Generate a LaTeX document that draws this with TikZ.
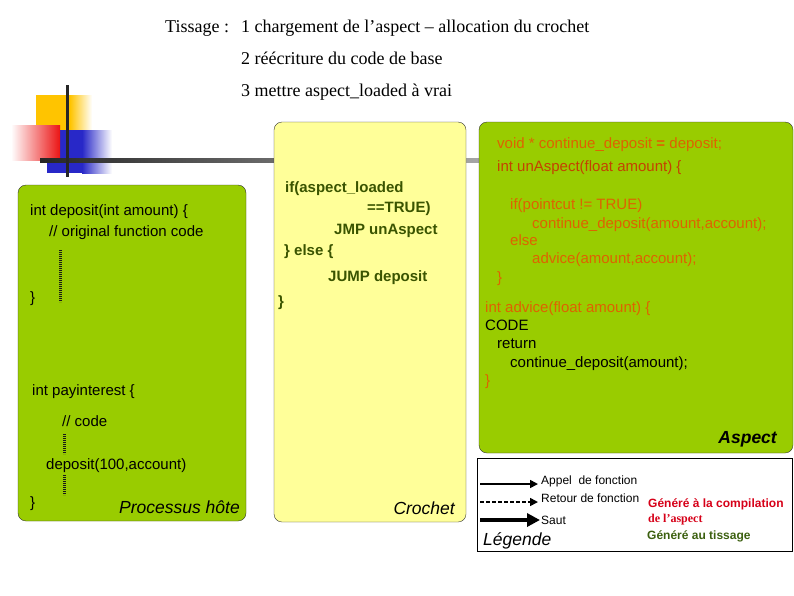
\documentclass[tikz,border=0pt]{standalone}
\usepackage{fontspec}
\setmainfont{Liberation Serif}
\setsansfont{Liberation Sans}
\usetikzlibrary{arrows.meta}
\definecolor{hostGreen}{RGB}{153,204,0}
\definecolor{hookYellow}{RGB}{255,255,153}
\definecolor{hookText}{RGB}{58,84,0}
\definecolor{aspectOrange}{RGB}{222,98,0}
\definecolor{aspectBrown}{RGB}{196,66,0}
\definecolor{genRed}{RGB}{214,0,24}
\definecolor{genGreen}{RGB}{60,96,16}
\newcommand{\codeSize}[0]{\fontsize{15}{18}\selectfont}
\newcommand{\titleSize}[0]{\fontsize{18}{21}\selectfont}
\newcommand{\labelSize}[0]{\fontsize{17.5}{20}\selectfont}
\newcommand{\legendSize}[0]{\fontsize{12}{14}\selectfont}

\begin{document}
\begin{tikzpicture}[x=1pt, y=-1pt]
  \tikzset{every node/.style={inner sep=0pt, anchor=base west},
    codebox/.style={draw=black!80, rounded corners=8pt, anchor=center},
    code/.style={font=\sffamily\codeSize},
    hook/.style={font=\sffamily\bfseries\codeSize, text=hookText},
    advice/.style={font=\sffamily\codeSize, text=aspectOrange},
    boxlabel/.style={font=\sffamily\itshape\labelSize, anchor=base east},
    legendtext/.style={font=\sffamily\legendSize},
    ellipsis/.style={line width=3pt, black!90, dash pattern=on 1.2pt off 0.8pt}}
  \useasboundingbox (0,0) rectangle (794,595);

  % logo
  \fill[color={rgb,255:red,255;green,196;blue,0}] (36,95) rectangle (70,132);
  \shade[left color={rgb,255:red,255;green,196;blue,0}, right color=white] (70,95) rectangle (92,132);
  \fill[color={rgb,255:red,40;green,40;blue,200}] (47,130) rectangle (82,173);
  \shade[left color={rgb,255:red,40;green,40;blue,200}, right color=white] (82,130) rectangle (112,173);
  \shade[left color=white, right color={rgb,255:red,235;green,20;blue,20}] (11,125) rectangle (60,160);
  \shade[left color=black!85, right color=black!35] (40,158) rectangle (480,162.5);
  \draw[line width=3pt, black!85] (67,85) -- (67,177);

  % titre
  \node[font=\titleSize] (tissage) at (165,32) {Tissage :};
  \node[font=\titleSize] (step1) at (241,32) {1 chargement de l’aspect – allocation du crochet};
  \node[font=\titleSize] (step2) at (241,64) {2 réécriture du code de base};
  \node[font=\titleSize] (step3) at (241,96) {3 mettre aspect\_loaded à vrai};

  % boites
  \node[codebox, fill=hostGreen, minimum width=228pt, minimum height=336pt] (host) at (132,353) {};
  \node[codebox, fill=hookYellow, minimum width=192pt, minimum height=400pt] (hook) at (370,322) {};
  \node[codebox, fill=hostGreen, minimum width=314pt, minimum height=331pt] (aspect) at (636,287.5) {};
  \node[draw=black, anchor=center, minimum width=315pt, minimum height=93pt] (legend) at (634.5,504.5) {};

  % processus hote
  \node[code] (deposit) at (30,215) {int deposit(int amount) \{};
  \node[code] (original) at (49,236) {// original function code};
  \node[code] (depositEnd) at (30,302) {\}};
  \node[code] (payinterest) at (32,395) {int payinterest \{};
  \node[code] (comment) at (62,426) {// code};
  \node[code] (call) at (46,469) {deposit(100,account)};
  \node[code] (payEnd) at (30,507) {\}};
  \node[boxlabel] (hostLabel) at (240,513) {Processus hôte};
  \coordinate (dotsA) at (60,250);
  \coordinate (dotsB) at (60,302);
  \coordinate (dotsC) at (64,434);
  \coordinate (dotsD) at (64,454);
  \coordinate (dotsE) at (64,475);
  \coordinate (dotsF) at (64,495);
  \draw[ellipsis] (dotsA) -- (dotsB);
  \draw[ellipsis] (dotsC) -- (dotsD);
  \draw[ellipsis] (dotsE) -- (dotsF);

  % crochet
  \node[hook] (test) at (285,192) {if(aspect\_loaded};
  \node[hook] (true) at (367,212) {==TRUE)};
  \node[hook] (jmp) at (334,234) {JMP unAspect};
  \node[hook] (else) at (284,255) {\} else \{};
  \node[hook] (jump) at (328,281) {JUMP deposit};
  \node[hook] (hookEnd) at (278,306) {\}};
  \node[boxlabel] (hookLabel) at (455,514) {Crochet};

  % aspect
  \node[advice] (pointer) at (497,148) {void * continue\_deposit {\bfseries =} deposit;};
  \node[advice, text=aspectBrown] (unAspect) at (497,171) {int unAspect(float amount) \{};
  \node[advice] (pointcut) at (510,209) {if(pointcut != TRUE)};
  \node[advice] (continue) at (532,228) {continue\_deposit(amount,account);};
  \node[advice] (otherwise) at (510,245) {else};
  \node[advice] (callAdvice) at (532,263) {advice(amount,account);};
  \node[advice] (unAspectEnd) at (497,282) {\}};
  \node[advice] (adviceDef) at (485,312) {int advice(float amount) \{};
  \node[code] (body) at (485,330) {CODE};
  \node[code] (return) at (497,348) {return};
  \node[code] (returnCall) at (510,367) {continue\_deposit(amount);};
  \node[advice] (adviceEnd) at (485,385) {\}};
  \node[boxlabel, font=\sffamily\bfseries\itshape\labelSize] (aspectLabel) at (777,443) {Aspect};

  % legende
  \coordinate (callFrom) at (480,484);
  \coordinate (callTo) at (538,484);
  \coordinate (returnFrom) at (480,502);
  \coordinate (returnTo) at (538,502);
  \coordinate (jumpFrom) at (480,520);
  \coordinate (jumpTo) at (540,520);
  \draw[line width=1.6pt, -{Triangle[length=8pt, width=8pt]}] (callFrom) -- (callTo);
  \draw[line width=1.6pt, dash pattern=on 4pt off 2pt, -{Triangle[length=8pt, width=8pt]}] (returnFrom) -- (returnTo);
  \draw[line width=4pt, -{Triangle[length=13pt, width=13pt]}] (jumpFrom) -- (jumpTo);
  \node[legendtext] (callText) at (541,484) {Appel\ \ de fonction};
  \node[legendtext] (returnText) at (541,502) {Retour de fonction};
  \node[legendtext] (jumpText) at (541,524) {Saut};
  \node[font=\sffamily\itshape\labelSize] (legendLabel) at (483,545) {Légende};
  \node[legendtext, font=\sffamily\bfseries\legendSize, text=genRed] (compiled) at (648,507) {Généré à la compilation};
  \node[font=\rmfamily\bfseries\legendSize, text=genRed] (compiled2) at (648,522) {de l’aspect};
  \node[legendtext, font=\sffamily\bfseries\legendSize, text=genGreen] (woven) at (647,539) {Généré au tissage};
\end{tikzpicture}
\end{document}
